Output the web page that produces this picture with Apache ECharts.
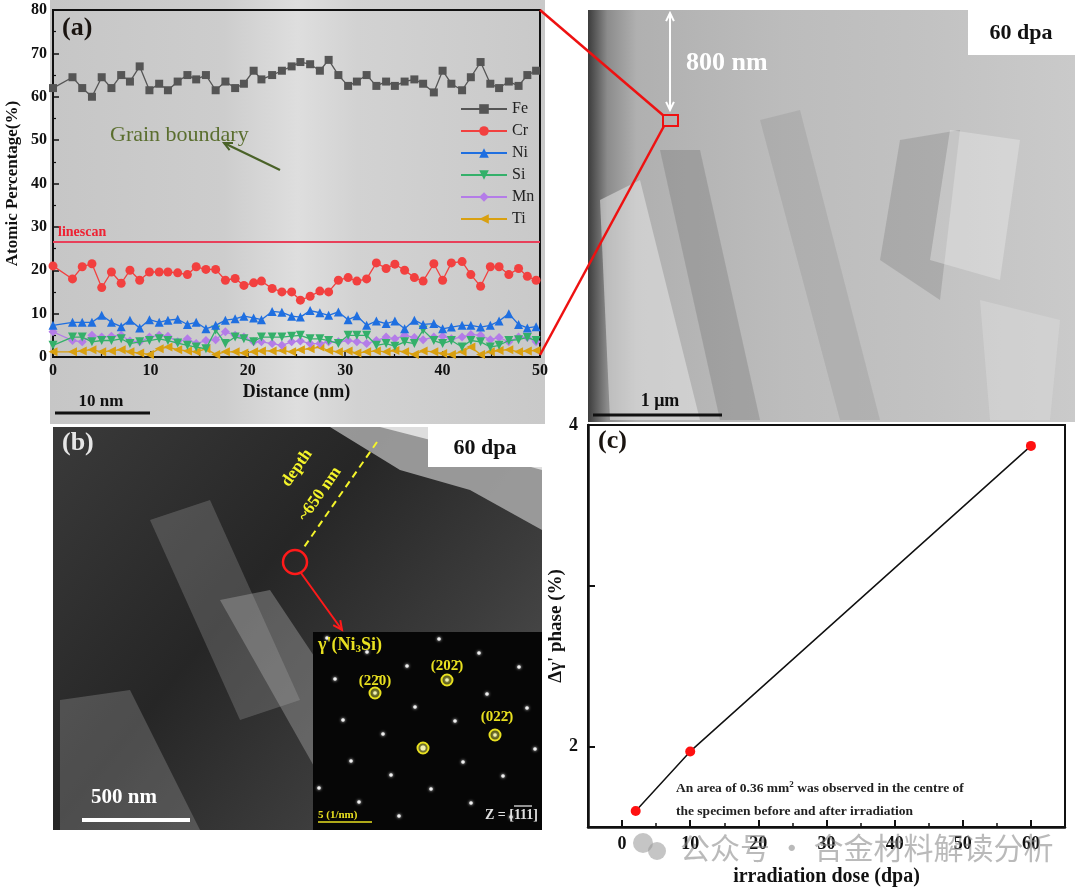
<!DOCTYPE html>
<html>
<head>
<meta charset="utf-8">
<script src="https://cdn.jsdelivr.net/npm/echarts@6/dist/echarts.min.js"></script>
<style>
  html, body { margin: 0; padding: 0; background: #fff; }
  #main { width: 1080px; height: 888px; }
</style>
</head>
<body>
<div id="main"></div>
<script>
// (a) EDS linescan across the grain boundary
var distance = [0, 2.0, 3.0, 4.0, 5.0, 6.0, 7.0, 7.9, 8.9, 9.9, 10.9, 11.8, 12.8, 13.8, 14.7, 15.7, 16.7, 17.7, 18.7, 19.6,
  20.6, 21.4, 22.5, 23.5, 24.5, 25.4, 26.4, 27.4, 28.3, 29.3, 30.3, 31.2, 32.2, 33.2, 34.2, 35.1, 36.1, 37.1, 38.0, 39.1,
  40.0, 40.9, 42.0, 42.9, 43.9, 44.9, 45.8, 46.8, 47.8, 48.7, 49.6];
var fe = [62, 64.5, 62, 60, 64.5, 62, 65, 63.5, 67, 61.5, 63, 61.5, 63.5, 65, 64, 65, 61.5, 63.5, 62, 63,
  66, 64, 65, 66, 67, 68, 67.5, 66, 68.5, 65, 62.5, 63.5, 65, 62.5, 63.5, 62.5, 63.5, 64, 63, 61,
  66, 63, 61.5, 64.5, 68, 63, 62, 63.5, 62.5, 65, 66];
var cr = [21, 18, 20.8, 21.5, 16, 19.6, 17, 20, 17.7, 19.6, 19.6, 19.6, 19.4, 19, 20.8, 20.2, 20.2, 17.7, 18.1, 16.5,
  17.1, 17.5, 15.8, 15, 15, 13.1, 14, 15.2, 15, 17.7, 18.3, 17.5, 18, 21.7, 20.4, 21.4, 20, 18.3, 17.5, 21.5,
  17.7, 21.7, 22, 19, 16.3, 20.8, 20.8, 19, 20.4, 18.6, 17.7];
var ni = [7.3, 8, 8, 8, 9.6, 8, 7, 8.5, 6.7, 8.6, 8, 8.5, 8.7, 7.5, 8, 6.5, 7.3, 8.5, 8.8, 9.4,
  9, 8.6, 10.5, 10.3, 9.4, 9.2, 10.7, 10.2, 9.6, 10.4, 8.6, 9.5, 7.3, 8.3, 7.7, 8.3, 6.5, 8.5, 7.5, 7.7,
  6.5, 6.9, 7.3, 7.3, 6.9, 7.3, 8.3, 10, 7.5, 6.7, 7];
var si = [2.7, 4.6, 4.6, 3.5, 3.8, 3.8, 4.2, 3.1, 3.5, 3.8, 4.2, 3.8, 3.2, 2.7, 2.3, 1.9, 6.2, 3.1, 4.6, 4.2,
  3.5, 4.6, 4.6, 4.6, 4.8, 5, 4.2, 4.2, 3.8, 3.1, 5, 5, 5, 2.7, 3.1, 2.5, 3.5, 3.1, 6.2, 3.8,
  3.1, 3.8, 2.3, 3.8, 3.5, 2.3, 2.7, 3.8, 4, 4.5, 3.8];
var mn = [5.8, 3.8, 3.5, 5, 4.6, 4.8, 5, 3.7, 3.5, 4.6, 5, 4.8, 3.5, 4.2, 3.1, 3.8, 4, 5.8, 5, 4.6,
  3.5, 3.5, 3.1, 2.7, 3.5, 3.7, 3.1, 3.1, 3.5, 3.5, 3.8, 3.5, 3.1, 3.8, 4.6, 4.2, 5, 4.5, 4, 4.6,
  4.8, 4.2, 4.6, 5.2, 5, 4, 4.5, 3.5, 4.6, 4.5, 3.5];
var ti = [1.2, 1.2, 1.4, 1.7, 1.2, 1.4, 1.7, 1.2, 0.9, 0.6, 1.9, 2.3, 1.7, 1.4, 1.2, 1.9, 0.6, 1.2, 1.2, 0.9,
  1.2, 1.4, 1.4, 1.5, 1.2, 1.7, 1.9, 2.3, 1.5, 1.2, 1.4, 0.9, 1.2, 1.4, 1.2, 1.5, 1.2, 0.6, 1.4, 1.2,
  0.8, 0.6, 1.2, 2.3, 0.6, 1.2, 1.5, 1.7, 1.2, 1.4, 1.5];
var linescanLevel = 26.6;

// (c) γ' phase vs dose
var dose = [2, 10, 60];
var gammaPhase = [1.6, 1.97, 3.87];

var SERIF = "'Liberation Serif', 'DejaVu Serif', serif";

function zip(xs, ys) {
  var out = [];
  for (var i = 0; i < xs.length; i++) out.push([xs[i], ys[i]]);
  return out;
}

// 元素曲线
var elements = [
  {name: 'Fe', data: fe, color: '#555555', symbol: 'rect', rotate: 0, size: 8},
  {name: 'Cr', data: cr, color: '#f2403f', symbol: 'circle', rotate: 0, size: 9},
  {name: 'Ni', data: ni, color: '#1f6fe0', symbol: 'triangle', rotate: 0, size: 9},
  {name: 'Si', data: si, color: '#34b06a', symbol: 'triangle', rotate: 180, size: 9},
  {name: 'Mn', data: mn, color: '#b47ce8', symbol: 'diamond', rotate: 0, size: 9},
  {name: 'Ti', data: ti, color: '#d9a010', symbol: 'triangle', rotate: 90, size: 9}
];

var series = elements.map(function (el, idx) {
  var s = {
    name: el.name,
    type: 'line',
    xAxisIndex: 0,
    yAxisIndex: 0,
    data: zip(distance, el.data),
    symbol: el.symbol,
    symbolRotate: el.rotate,
    symbolSize: el.size,
    lineStyle: {color: el.color, width: 1.3},
    itemStyle: {color: el.color},
    z: 10 - idx
  };
  if (idx === 0) {
    s.markLine = {
      silent: true,
      symbol: 'none',
      label: {show: false},
      lineStyle: {color: '#e8405a', width: 2, type: 'solid'},
      data: [{yAxis: linescanLevel}]
    };
  }
  return s;
});

series.push({
  name: 'gamma',
  type: 'line',
  xAxisIndex: 1,
  yAxisIndex: 1,
  data: zip(dose, gammaPhase),
  symbol: 'circle',
  symbolSize: 10,
  lineStyle: {color: '#111', width: 1.5},
  itemStyle: {color: '#ff1010'},
  z: 10
});

// 图片区域（显微照片用灰度块近似）
var graphics = [];

function rect(x, y, w, h, fill, z) {
  graphics.push({type: 'rect', shape: {x: x, y: y, width: w, height: h}, style: {fill: fill}, z: z, silent: true});
}
function poly(points, fill, z) {
  graphics.push({type: 'polygon', shape: {points: points}, style: {fill: fill}, z: z, silent: true});
}
function line(x1, y1, x2, y2, color, width, z, dash) {
  graphics.push({type: 'line', shape: {x1: x1, y1: y1, x2: x2, y2: y2},
    style: {stroke: color, lineWidth: width, lineDash: dash || null}, z: z, silent: true});
}
function text(str, x, y, font, fill, align, extra) {
  var el = {type: 'text', x: x, y: y, z: 100, silent: true,
    style: {text: str, font: font, fill: fill, textAlign: align || 'left', textVerticalAlign: 'middle'}};
  if (extra) {
    for (var k in extra) {
      if (k === 'rich') el.style.rich = extra[k]; else el[k] = extra[k];
    }
  }
  graphics.push(el);
}
function arrowHead(x1, y1, x2, y2, color, len, z) {
  var a = Math.atan2(y2 - y1, x2 - x1);
  var p1 = [x2 - len * Math.cos(a - 0.45), y2 - len * Math.sin(a - 0.45)];
  var p2 = [x2 - len * Math.cos(a + 0.45), y2 - len * Math.sin(a + 0.45)];
  graphics.push({type: 'polyline', shape: {points: [p1, [x2, y2], p2]},
    style: {stroke: color, lineWidth: 2, fill: null}, z: z, silent: true});
}

// (a) 背景
rect(50, 0, 495, 424, new echarts.graphic.LinearGradient(0, 0, 1, 0, [
  {offset: 0, color: '#c6c6c6'}, {offset: 0.35, color: '#cdcdcd'}, {offset: 0.5, color: '#dedede'},
  {offset: 0.62, color: '#d2d2d2'}, {offset: 1, color: '#c9c9c9'}]), -10);

// 右上 TEM 图
rect(588, 10, 487, 412, new echarts.graphic.LinearGradient(0, 0, 1, 0, [
  {offset: 0, color: '#3c3c3c'}, {offset: 0.04, color: '#8c8c8c'}, {offset: 0.1, color: '#b0b0b0'},
  {offset: 0.4, color: '#bcbcbc'}, {offset: 0.7, color: '#c2c2c2'}, {offset: 1, color: '#cacaca'}]), -10);
poly([[600, 200], [640, 180], [700, 420], [610, 420]], 'rgba(230,230,230,0.55)', -9);
poly([[660, 150], [700, 150], [760, 420], [720, 420]], 'rgba(90,90,90,0.25)', -9);
poly([[760, 120], [800, 110], [880, 420], [840, 420]], 'rgba(120,120,120,0.2)', -9);
poly([[900, 140], [960, 130], [940, 300], [880, 260]], 'rgba(80,80,80,0.2)', -9);
poly([[950, 130], [1020, 140], [1000, 280], [930, 260]], 'rgba(235,235,235,0.4)', -9);
poly([[980, 300], [1060, 320], [1050, 420], [990, 420]], 'rgba(220,220,220,0.45)', -9);
rect(968, 10, 107, 45, '#ffffff', 50);
text('60 dpa', 1021, 33, 'bold 22px ' + SERIF, '#111', 'center');
text('800 nm', 686, 63, 'bold 26px ' + SERIF, '#ffffff', 'left');
line(670, 13, 670, 110, '#ffffff', 2, 60);
arrowHead(670, 110, 670, 13, '#ffffff', 9, 60);
arrowHead(670, 13, 670, 110, '#ffffff', 9, 60);
line(593, 415, 722, 415, '#111', 3, 60);
text('1 μm', 660, 401, 'bold 18px ' + SERIF, '#111', 'center');

// 红色放大框及连线
line(540, 10, 664, 116, '#ee1111', 2.5, 90);
line(540, 355, 664, 126, '#ee1111', 2.5, 90);
graphics.push({type: 'rect', shape: {x: 663, y: 115, width: 15, height: 11},
  style: {fill: null, stroke: '#ee1111', lineWidth: 2}, z: 90, silent: true});

// (b) 暗场 TEM 图
rect(53, 427, 489, 403, new echarts.graphic.LinearGradient(0, 0, 1, 1, [
  {offset: 0, color: '#3a3a3a'}, {offset: 0.4, color: '#262626'}, {offset: 0.7, color: '#3c3c3c'},
  {offset: 1, color: '#555555'}]), -10);
poly([[330, 427], [542, 427], [542, 530], [470, 490], [400, 470]], 'rgba(170,170,170,0.85)', -9);
poly([[380, 427], [542, 427], [542, 470], [450, 445]], 'rgba(230,230,230,0.9)', -9);
poly([[150, 520], [210, 500], [300, 700], [240, 720]], 'rgba(160,160,160,0.3)', -9);
poly([[220, 600], [270, 590], [430, 830], [350, 830]], 'rgba(190,190,190,0.35)', -9);
poly([[60, 700], [130, 690], [200, 830], [60, 830]], 'rgba(170,170,170,0.3)', -9);
poly([[330, 700], [380, 690], [470, 830], [410, 830]], 'rgba(150,150,150,0.3)', -9);
text('(b)', 62, 443, 'bold 26px ' + SERIF, '#e6e6e6', 'left');
rect(428, 427, 114, 40, '#ffffff', 50);
text('60 dpa', 485, 448, 'bold 22px ' + SERIF, '#111', 'center');
line(377, 442, 302, 550, '#f4f42a', 2, 60, [7, 5]);
text('depth', 297, 468, 'bold 17px ' + SERIF, '#f4f42a', 'center', {rotation: 55 * Math.PI / 180});
text('~650 nm', 320, 494, 'bold 17px ' + SERIF, '#f4f42a', 'center', {rotation: 55 * Math.PI / 180});
graphics.push({type: 'circle', shape: {cx: 295, cy: 562, r: 12},
  style: {fill: null, stroke: '#ff1a1a', lineWidth: 2.5}, z: 60, silent: true});
line(301, 573, 342, 630, '#ff1a1a', 2, 60);
arrowHead(301, 573, 342, 630, '#ff1a1a', 10, 60);
line(82, 820, 190, 820, '#ffffff', 4, 60);
text('500 nm', 124, 798, 'bold 21px ' + SERIF, '#ffffff', 'center');

// 衍射花样插图
rect(313, 632, 229, 198, '#060606', 40);
var spotCenter = [423, 748], va = [40, 14], vb = [-8, -41];
for (var i = -7; i <= 7; i++) {
  for (var j = -7; j <= 7; j++) {
    var px = spotCenter[0] + i * va[0] + j * vb[0];
    var py = spotCenter[1] + i * va[1] + j * vb[1];
    if (px < 318 || px > 538 || py < 636 || py > 826) continue;
    graphics.push({type: 'circle', shape: {cx: px, cy: py, r: (i === 0 && j === 0) ? 2.5 : 1.8},
      style: {fill: '#f0f0f0', shadowBlur: 3, shadowColor: '#ffffff'}, z: 45, silent: true});
  }
}
[[0, 0], [-1, 1], [1, 2], [2, 1]].forEach(function (ij) {
  graphics.push({type: 'circle',
    shape: {cx: spotCenter[0] + ij[0] * va[0] + ij[1] * vb[0], cy: spotCenter[1] + ij[0] * va[1] + ij[1] * vb[1], r: 5.5},
    style: {fill: 'rgba(240,240,60,0.35)', stroke: '#e8e020', lineWidth: 2}, z: 46, silent: true});
});
text("γ'(Ni{s|3}Si)", 318, 645, 'bold 18px ' + SERIF, '#e8e020', 'left',
  {rich: {s: {font: 'bold 11px ' + SERIF, fill: '#e8e020', verticalAlign: 'bottom', padding: [8, 0, 0, 0]}}});
text('(22\u03040)', 375, 681, 'bold 15px ' + SERIF, '#e8e020', 'center');
text('(202\u0304)', 447, 666, 'bold 15px ' + SERIF, '#e8e020', 'center');
text('(022\u0304)', 497, 717, 'bold 15px ' + SERIF, '#e8e020', 'center');
text('5 (1/nm)', 318, 815, 'bold 11px ' + SERIF, '#e8e020', 'left');
line(318, 822, 372, 822, '#e8e020', 1.5, 60);
text('Z = [111]', 538, 815, 'bold 14px ' + SERIF, '#e0e0e0', 'right');
line(514, 806, 532, 806, '#e0e0e0', 1.3, 100);

// (a) 标注
text('(a)', 62, 28, 'bold 26px ' + SERIF, '#1a1410', 'left');
text('Grain boundary', 110, 135, '22px ' + SERIF, '#5a6e2e', 'left');
line(280, 170, 224, 143, '#4a6228', 2.2, 60);
arrowHead(280, 170, 224, 143, '#4a6228', 9, 60);
text('linescan', 58, 232, 'bold 14px ' + SERIF, '#ee2233', 'left');
line(55, 413, 150, 413, '#111', 3, 60);
text('10 nm', 101, 402, 'bold 17px ' + SERIF, '#111', 'center');

// (c) 标注
text('(c)', 598, 441, 'bold 26px ' + SERIF, '#1a1410', 'left');
text('An area of 0.36 mm{sup|2} was observed in the centre of', 676, 789, 'bold 13.5px ' + SERIF, '#222', 'left',
  {rich: {sup: {font: 'bold 9px ' + SERIF, fill: '#222', verticalAlign: 'top', padding: [0, 0, 8, 0]}}});
text('the specimen before and after irradiation', 676, 812, 'bold 13.5px ' + SERIF, '#222', 'left');

// 水印
graphics.push({type: 'circle', shape: {cx: 643, cy: 843, r: 10}, style: {fill: 'rgba(150,150,150,0.55)'}, z: 100, silent: true});
graphics.push({type: 'circle', shape: {cx: 657, cy: 851, r: 9}, style: {fill: 'rgba(150,150,150,0.55)'}, z: 100, silent: true});
text('公众号 · 合金材料解读分析', 680, 848, '30px "Noto Sans CJK SC", sans-serif', 'rgba(130,130,130,0.55)', 'left');

var axisLabelA = {color: '#111', fontFamily: SERIF, fontWeight: 'bold', fontSize: 16};
var axisLabelC = {color: '#111', fontFamily: SERIF, fontWeight: 'bold', fontSize: 18};

var option = {
  backgroundColor: '#ffffff',
  animation: false,
  textStyle: {fontFamily: SERIF},
  graphic: {elements: graphics},
  legend: {
    data: ['Fe', 'Cr', 'Ni', 'Si', 'Mn', 'Ti'],
    orient: 'vertical',
    left: 455,
    top: 96,
    itemWidth: 46,
    itemHeight: 12,
    itemGap: 6,
    textStyle: {fontFamily: SERIF, fontSize: 16, color: '#222'}
  },
  grid: [
    {left: 53, top: 10, width: 487, height: 347, show: true, borderColor: '#111', borderWidth: 2, backgroundColor: 'transparent'},
    {left: 588, top: 425, width: 477, height: 407, show: true, borderColor: '#111', borderWidth: 2, backgroundColor: '#ffffff'}
  ],
  xAxis: [
    {
      gridIndex: 0, type: 'value', min: 0, max: 50, interval: 10,
      name: 'Distance (nm)', nameLocation: 'middle', nameGap: 26,
      nameTextStyle: {color: '#111', fontFamily: SERIF, fontWeight: 'bold', fontSize: 18},
      axisLine: {onZero: false, lineStyle: {color: '#111', width: 2}},
      axisTick: {inside: true, length: 6, lineStyle: {color: '#111', width: 1.5}},
      minorTick: {show: true, splitNumber: 2, length: 3, lineStyle: {color: '#111', width: 1.2}},
      axisLabel: Object.assign({margin: 6}, axisLabelA),
      splitLine: {show: false}
    },
    {
      gridIndex: 1, type: 'value', min: -5, max: 65, minInterval: 10, maxInterval: 10,
      name: 'irradiation dose (dpa)', nameLocation: 'middle', nameGap: 40,
      nameTextStyle: {color: '#111', fontFamily: SERIF, fontWeight: 'bold', fontSize: 20},
      axisLine: {onZero: false, lineStyle: {color: '#111', width: 2.5}},
      axisTick: {inside: true, length: 7, lineStyle: {color: '#111', width: 2}},
      minorTick: {show: true, splitNumber: 2, length: 4, lineStyle: {color: '#111', width: 1.5}},
      axisLabel: Object.assign({margin: 8, showMinLabel: false, showMaxLabel: false}, axisLabelC),
      splitLine: {show: false}
    }
  ],
  yAxis: [
    {
      gridIndex: 0, type: 'value', min: 0, max: 80, interval: 10,
      name: 'Atomic Percentage(%)', nameLocation: 'middle', nameGap: 32,
      nameTextStyle: {color: '#111', fontFamily: SERIF, fontWeight: 'bold', fontSize: 17},
      axisLine: {onZero: false, lineStyle: {color: '#111', width: 2}},
      axisTick: {inside: true, length: 6, lineStyle: {color: '#111', width: 1.5}},
      minorTick: {show: true, splitNumber: 2, length: 3, lineStyle: {color: '#111', width: 1.2}},
      axisLabel: Object.assign({margin: 6}, axisLabelA),
      splitLine: {show: false}
    },
    {
      gridIndex: 1, type: 'value', min: 1.5, max: 4, minInterval: 1, maxInterval: 1,
      name: "Δγ' phase (%)", nameLocation: 'middle', nameGap: 22, nameMoveOverlap: false,
      nameTextStyle: {color: '#111', fontFamily: SERIF, fontWeight: 'bold', fontSize: 19},
      axisLine: {onZero: false, lineStyle: {color: '#111', width: 2.5}},
      axisTick: {inside: true, length: 7, lineStyle: {color: '#111', width: 2}},
      axisLabel: Object.assign({
        margin: 10, showMinLabel: false,
        formatter: function (v) { return (v === 2 || v === 4) ? String(v) : ''; }
      }, axisLabelC),
      splitLine: {show: false}
    }
  ],
  series: series
};

var chart = echarts.init(document.getElementById('main'));
chart.setOption(option);
</script>
</body>
</html>
